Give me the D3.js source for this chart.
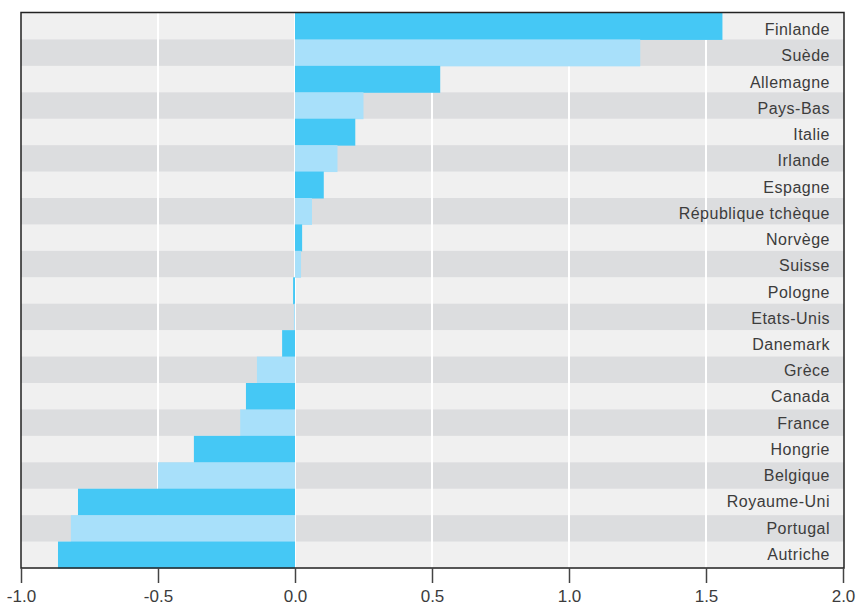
<!DOCTYPE html>
<html>
<head>
<meta charset="utf-8">
<script src="https://cdn.jsdelivr.net/npm/d3@7"></script>
<style>
  body { margin: 0; background: #fff; }
  svg { display: block; font-family: "Liberation Sans", Arial, sans-serif; }
</style>
</head>
<body>
<svg id="chart" width="856" height="606"></svg>
<script>
// country labels, top to bottom
var countries = ["Finlande", "Suède", "Allemagne", "Pays-Bas", "Italie", "Irlande", "Espagne",
    "République tchèque", "Norvège", "Suisse", "Pologne", "Etats-Unis", "Danemark", "Grèce",
    "Canada", "France", "Hongrie", "Belgique", "Royaume-Uni", "Portugal", "Autriche"];
var values = [1.56, 1.26, 0.53, 0.25, 0.22, 0.155, 0.105, 0.062, 0.026, 0.022, -0.007, -0.004,
    -0.047, -0.139, -0.179, -0.20, -0.369, -0.50, -0.792, -0.818, -0.865];
var ticks = [-1.0, -0.5, 0.0, 0.5, 1.0, 1.5, 2.0];

var data = countries.map(function(c, i) { return {name: c, value: values[i], i: i}; });

var svg = d3.select("#chart");
var l_left = 21, l_right = 843, l_top = 13, l_bottom = 568;

var x = d3.scaleLinear().domain([-1, 2]).range([l_left, l_right]);
var y = d3.scaleBand().domain(countries).range([l_top, l_bottom]).padding(0);
// labels sit on a slightly tighter pitch than the rows
var yl = d3.scaleBand().domain(countries).range([16, 567]).padding(0);

// row stripes
svg.append("g").selectAll("rect")
    .data(data)
  .enter().append("rect")
    .attr("x", l_left)
    .attr("y", function(d) { return y(d.name); })
    .attr("width", l_right + 1 - l_left)
    .attr("height", y.bandwidth() + 0.5)
    .attr("fill", function(d) { return d.i % 2 ? "#dcdddf" : "#f0f0f0"; });

// white vertical grid
svg.append("g").selectAll("line")
    .data(ticks.slice(1, -1))
  .enter().append("line")
    .attr("x1", function(d) { return x(d); })
    .attr("x2", function(d) { return x(d); })
    .attr("y1", l_top)
    .attr("y2", l_bottom)
    .attr("stroke", "#fff")
    .attr("stroke-width", 2);

// bars
svg.append("g").selectAll("rect")
    .data(data)
  .enter().append("rect")
    .attr("x", function(d) { return x(Math.min(0, d.value)); })
    .attr("y", function(d) { return y(d.name); })
    .attr("width", function(d) { return Math.abs(x(d.value) - x(0)); })
    .attr("height", y.bandwidth() + 0.5)
    .attr("fill", function(d) { return d.i % 2 ? "#a8e0fa" : "#45c8f5"; });

// labels
svg.append("g").selectAll("text")
    .data(data)
  .enter().append("text")
    .attr("x", 830)
    .attr("y", function(d) { return yl(d.name) + yl.bandwidth() / 2 + 6; })
    .attr("text-anchor", "end")
    .attr("font-size", 16)
    .attr("letter-spacing", 0.5)
    .attr("fill", "#3c3c3c")
    .text(function(d) { return d.name; });

// frame
svg.append("rect")
    .attr("x", l_left)
    .attr("y", l_top - 0.5)
    .attr("width", l_right + 1 - l_left)
    .attr("height", l_bottom - l_top + 0.5)
    .attr("fill", "none")
    .attr("stroke", "#222")
    .attr("stroke-width", 1.5);

// axis
var fmt = d3.format(".1f");
var axis = svg.append("g")
    .attr("transform", "translate(0," + l_bottom + ")")
    .call(d3.axisBottom(x).tickValues(ticks).tickSize(15).tickPadding(7)
        .tickFormat(function(d) { return fmt(d).replace("\u2212", "-"); }));
axis.select(".domain").remove();
axis.selectAll("line").attr("stroke", "#444").attr("stroke-width", 1.5);
axis.selectAll("text").attr("font-size", 17).attr("fill", "#3c3c3c")
    .attr("font-family", "Liberation Sans, Arial, sans-serif");
</script>
</body>
</html>
